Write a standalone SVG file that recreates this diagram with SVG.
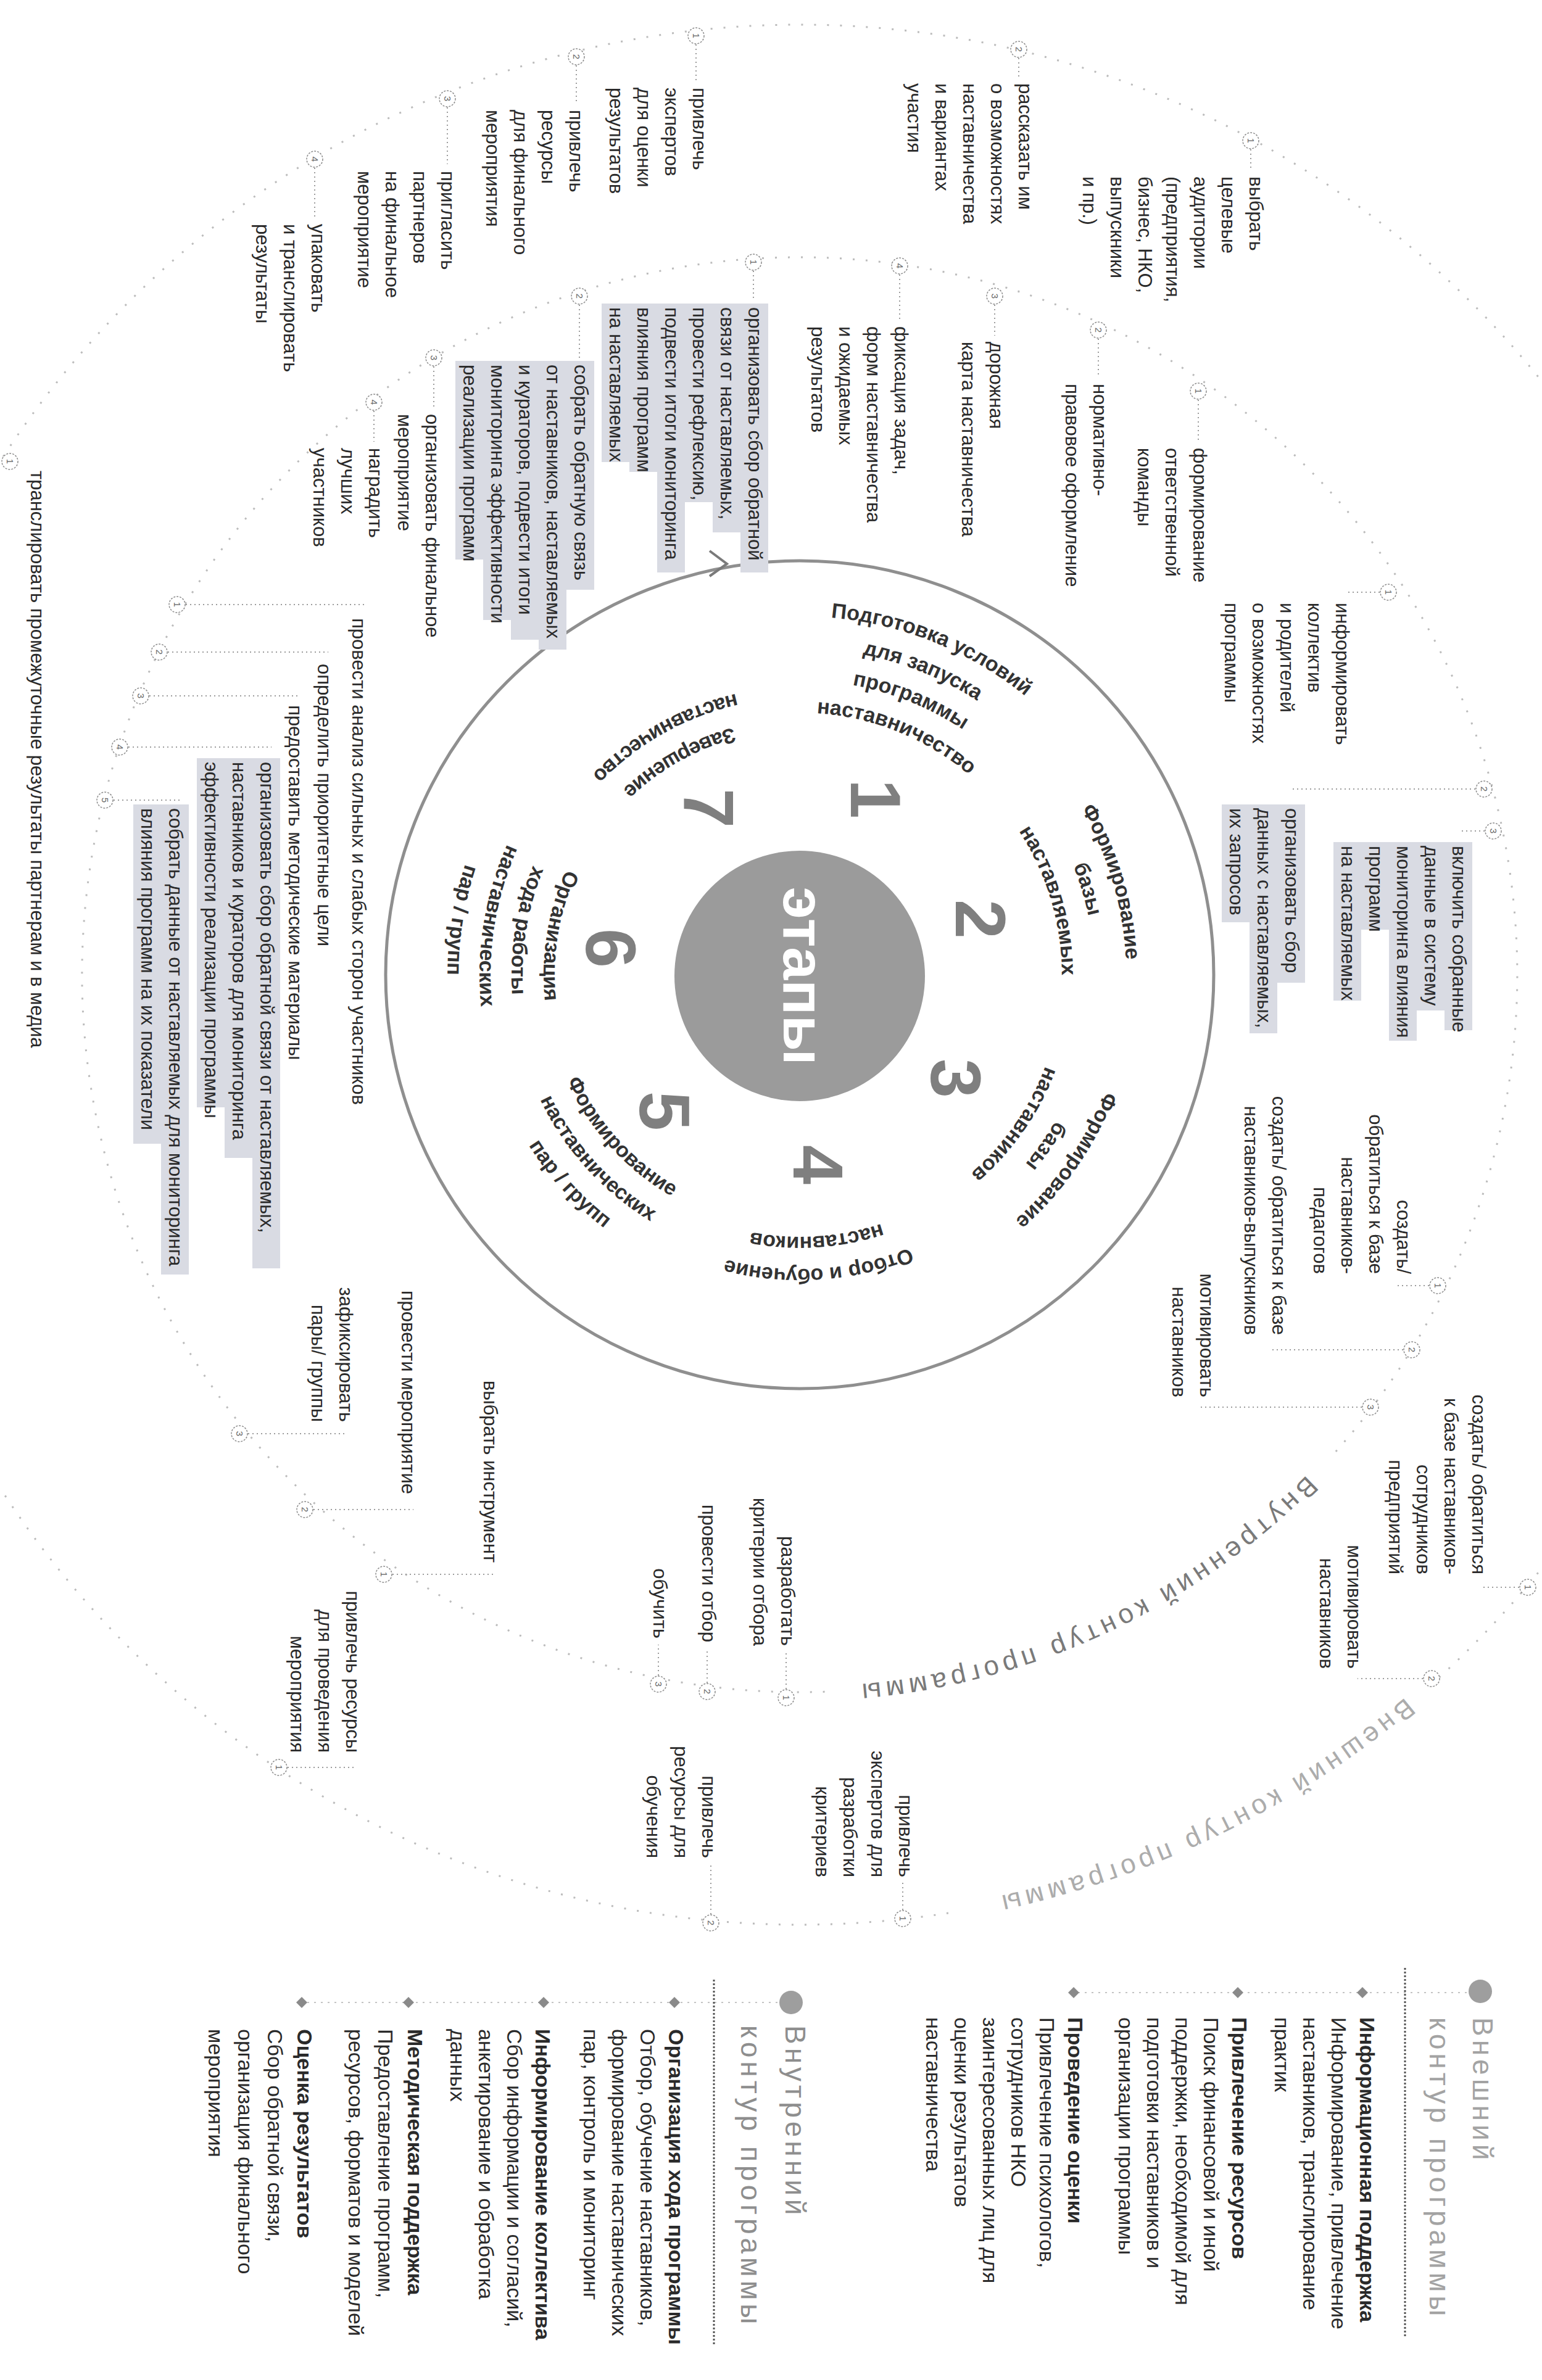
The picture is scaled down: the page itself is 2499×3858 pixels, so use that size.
<svg xmlns="http://www.w3.org/2000/svg" width="2499" height="3858" viewBox="0 0 2499 3858">
<style>
text{font-family:"Liberation Sans",Arial,sans-serif}
.t{font-size:31px;fill:#2a2a2a}
.lg{font-size:34px;fill:#2a2a2a}
.b{font-weight:bold}
.hd{font-size:46px;letter-spacing:6px;fill:#a3a3a3}
.st{font-size:34px;font-weight:bold;fill:#333}
.num{font-size:115px;font-weight:bold;fill:#7f7f7f}
.hl{fill:#d9dbe3}
.mk circle{fill:#fff;stroke:#8c8c8c;stroke-width:1.5;stroke-dasharray:3 2}
.mk text{font-size:15px;fill:#666}
.cn{stroke:#9c9c9c;stroke-width:2;stroke-dasharray:2 5;fill:none}
.ring{fill:none;stroke:#bcbcbc;stroke-width:3;stroke-dasharray:3 18}
.ct{font-size:44px;letter-spacing:7px}
.dv{stroke:#555;stroke-width:3;stroke-dasharray:3 3}
.lb{stroke:#c4c4c4;stroke-width:2;stroke-dasharray:3 8}
</style>
<defs>
<path id="t425" d="M877.5,1506.2 A425,425 0 0 1 1714.5,1506.2"/>
<path id="t477" d="M826.2,1497.2 A477,477 0 0 1 1765.8,1497.2"/>
<path id="t529" d="M775,1488.2 A529,529 0 0 1 1817,1488.2"/>
<path id="t581" d="M723.8,1479.1 A581,581 0 0 1 1868.2,1479.1"/>
<path id="b415" d="M887.3,1652 A415,415 0 0 0 1704.7,1652"/>
<path id="b467" d="M836.1,1661.1 A467,467 0 0 0 1755.9,1661.1"/>
<path id="b519" d="M784.9,1670.1 A519,519 0 0 0 1807.1,1670.1"/>
<path id="b571" d="M733.7,1679.1 A571,571 0 0 0 1858.3,1679.1"/>
<path id="c1154" d="M159.5,1379.7 A1154,1154 0 0 1 2432.5,1379.7"/>
<path id="c1528" d="M-208.8,1314.7 A1528,1528 0 0 1 2800.8,1314.7"/>
</defs>
<rect width="2499" height="3858" fill="#fff"/>

<!-- rings -->
<g id="rings">
<path class="ring" d="M1336.6,2742.3 A1163,1163 0 1 1 2160.2,2358.2"/>
<path class="ring" d="M1536.9,3101 A1540,1540 0 1 1 2306.4,2742.2"/>
<circle cx="1296" cy="1580" r="671" fill="none" stroke="#8f8f8f" stroke-width="5"/>
<polyline points="1150,893 1178,914 1150,934" fill="none" stroke="#7a7a7a" stroke-width="4"/>
<circle cx="1296" cy="1582" r="203" fill="#9b9b9b"/>
<text transform="translate(1296,1582) rotate(90)" x="0" y="26" text-anchor="middle" style="font-size:95px;font-weight:bold;fill:#fff">этапы</text>
<g transform="rotate(-205 1296 1580)"><text class="ct" style="fill:#7a7a7a"><textPath href="#c1154" startOffset="50%" text-anchor="middle">Внутренний контур программы</textPath></text></g>
<g transform="rotate(-206 1296 1580)"><text class="ct" style="fill:#acacac"><textPath href="#c1528" startOffset="50%" text-anchor="middle">Внешний контур программы</textPath></text></g>
</g>

<!-- stage numbers and labels -->
<g id="stages">
<g id="n1" transform="translate(1420,1295) rotate(90)"><text class="num" y="41" text-anchor="middle">1</text></g>
<g id="n2" transform="translate(1590,1490) rotate(90)"><text class="num" y="41" text-anchor="middle">2</text></g>
<g id="n3" transform="translate(1550,1748) rotate(90)"><text class="num" y="41" text-anchor="middle">3</text></g>
<g id="n4" transform="translate(1327,1888) rotate(90)"><text class="num" y="41" text-anchor="middle">4</text></g>
<g id="n5" transform="translate(1078,1801) rotate(90)"><text class="num" y="41" text-anchor="middle">5</text></g>
<g id="n6" transform="translate(991,1537) rotate(90)"><text class="num" y="41" text-anchor="middle">6</text></g>
<g id="n7" transform="translate(1150,1310) rotate(90)"><text class="num" y="41" text-anchor="middle">7</text></g>

<g id="s1" transform="rotate(22 1296 1580)">
<text class="st"><textPath href="#t581" startOffset="50%" text-anchor="middle">Подготовка условий</textPath></text>
<text class="st"><textPath href="#t529" startOffset="50%" text-anchor="middle">для запуска</textPath></text>
<text class="st"><textPath href="#t477" startOffset="50%" text-anchor="middle">программы</textPath></text>
<text class="st"><textPath href="#t425" startOffset="50%" text-anchor="middle">наставничество</textPath></text>
</g>
<g id="s2" transform="rotate(73.43 1296 1580)">
<text class="st"><textPath href="#t529" startOffset="50%" text-anchor="middle">Формирование</textPath></text>
<text class="st"><textPath href="#t477" startOffset="50%" text-anchor="middle">базы</textPath></text>
<text class="st"><textPath href="#t425" startOffset="50%" text-anchor="middle">наставляемых</textPath></text>
</g>
<g id="s3" transform="rotate(124.86 1296 1580)">
<text class="st"><textPath href="#t529" startOffset="50%" text-anchor="middle">Формирование</textPath></text>
<text class="st"><textPath href="#t477" startOffset="50%" text-anchor="middle">базы</textPath></text>
<text class="st"><textPath href="#t425" startOffset="50%" text-anchor="middle">наставников</textPath></text>
</g>
<g id="s4" transform="rotate(176.29 1296 1580)">
<text class="st"><textPath href="#t477" startOffset="50%" text-anchor="middle">Отбор и обучение</textPath></text>
<text class="st"><textPath href="#t425" startOffset="50%" text-anchor="middle">наставников</textPath></text>
</g>
<g id="s5" transform="rotate(47.71 1296 1580)">
<text class="st"><textPath href="#b415" startOffset="50%" text-anchor="middle">Формирование</textPath></text>
<text class="st"><textPath href="#b467" startOffset="50%" text-anchor="middle">наставнических</textPath></text>
<text class="st"><textPath href="#b519" startOffset="50%" text-anchor="middle">пар / групп</textPath></text>
</g>
<g id="s6" transform="rotate(99.14 1296 1580)">
<text class="st"><textPath href="#b415" startOffset="50%" text-anchor="middle">Организация</textPath></text>
<text class="st"><textPath href="#b467" startOffset="50%" text-anchor="middle">хода работы</textPath></text>
<text class="st"><textPath href="#b519" startOffset="50%" text-anchor="middle">наставнических</textPath></text>
<text class="st"><textPath href="#b571" startOffset="50%" text-anchor="middle">пар / групп</textPath></text>
</g>
<g id="s7" transform="rotate(150.57 1296 1580)">
<text class="st"><textPath href="#b415" startOffset="50%" text-anchor="middle">Завершение</textPath></text>
<text class="st"><textPath href="#b467" startOffset="50%" text-anchor="middle">наставничество</textPath></text>
</g>
</g>

<!-- connectors -->
<g id="connectors">
<line class="cn" x1="1128" y1="72" x2="1128" y2="132"/>
<line class="cn" x1="934" y1="106" x2="934" y2="168"/>
<line class="cn" x1="725" y1="174" x2="725" y2="266"/>
<line class="cn" x1="510" y1="272" x2="510" y2="352"/>
<line class="cn" x1="1221" y1="439" x2="1221" y2="488"/>
<line class="cn" x1="939" y1="494" x2="939" y2="580"/>
<line class="cn" x1="703" y1="594" x2="703" y2="660"/>
<line class="cn" x1="606" y1="666" x2="606" y2="716"/>
<line class="cn" x1="2027" y1="242" x2="2027" y2="276"/>
<line class="cn" x1="1651" y1="94" x2="1651" y2="125"/>
<line class="cn" x1="1942" y1="648" x2="1942" y2="716"/>
<line class="cn" x1="1780" y1="549" x2="1780" y2="612"/>
<line class="cn" x1="1612" y1="494" x2="1612" y2="544"/>
<line class="cn" x1="1458" y1="445" x2="1458" y2="519"/>
<line class="cn" x1="2236" y1="960" x2="2180" y2="960"/>
<line class="cn" x1="2391" y1="1279" x2="2095" y2="1279"/>
<line class="cn" x1="2406" y1="1347" x2="2365" y2="1347"/>
<line class="cn" x1="2316" y1="2084" x2="2262" y2="2084"/>
<line class="cn" x1="2274" y1="2188" x2="2060" y2="2188"/>
<line class="cn" x1="2207" y1="2281" x2="1945" y2="2281"/>
<line class="cn" x1="2462" y1="2573" x2="2400" y2="2573"/>
<line class="cn" x1="2306" y1="2721" x2="2200" y2="2721"/>
<line class="cn" x1="1274" y1="2738" x2="1274" y2="2680"/>
<line class="cn" x1="1146" y1="2728" x2="1146" y2="2672"/>
<line class="cn" x1="1067" y1="2716" x2="1067" y2="2666"/>
<line class="cn" x1="1463" y1="3096" x2="1463" y2="3052"/>
<line class="cn" x1="1152" y1="3103" x2="1152" y2="3022"/>
<line class="cn" x1="636" y1="2552" x2="802" y2="2552"/>
<line class="cn" x1="508" y1="2447" x2="670" y2="2447"/>
<line class="cn" x1="402" y1="2324" x2="560" y2="2324"/>
<line class="cn" x1="466" y1="2865" x2="575" y2="2865"/>
<line class="cn" x1="301" y1="980" x2="590" y2="980"/>
<line class="cn" x1="272" y1="1057" x2="532" y2="1057"/>
<line class="cn" x1="242" y1="1128" x2="485" y2="1128"/>
<line class="cn" x1="208" y1="1211" x2="440" y2="1211"/>
<line class="cn" x1="184" y1="1297" x2="292" y2="1297"/>
</g>

<!-- markers -->
<g id="markers">
<g class="mk" transform="translate(1128,58)"><circle r="13"/><text transform="rotate(90)" y="5" text-anchor="middle">1</text></g>
<g class="mk" transform="translate(934,92)"><circle r="13"/><text transform="rotate(90)" y="5" text-anchor="middle">2</text></g>
<g class="mk" transform="translate(725,160)"><circle r="13"/><text transform="rotate(90)" y="5" text-anchor="middle">3</text></g>
<g class="mk" transform="translate(510,258)"><circle r="13"/><text transform="rotate(90)" y="5" text-anchor="middle">4</text></g>
<g class="mk" transform="translate(1221,425)"><circle r="13"/><text transform="rotate(90)" y="5" text-anchor="middle">1</text></g>
<g class="mk" transform="translate(939,480)"><circle r="13"/><text transform="rotate(90)" y="5" text-anchor="middle">2</text></g>
<g class="mk" transform="translate(703,580)"><circle r="13"/><text transform="rotate(90)" y="5" text-anchor="middle">3</text></g>
<g class="mk" transform="translate(606,652)"><circle r="13"/><text transform="rotate(90)" y="5" text-anchor="middle">4</text></g>
<g class="mk" transform="translate(2027,228)"><circle r="13"/><text transform="rotate(90)" y="5" text-anchor="middle">1</text></g>
<g class="mk" transform="translate(1651,80)"><circle r="13"/><text transform="rotate(90)" y="5" text-anchor="middle">2</text></g>
<g class="mk" transform="translate(1942,634)"><circle r="13"/><text transform="rotate(90)" y="5" text-anchor="middle">1</text></g>
<g class="mk" transform="translate(1780,535)"><circle r="13"/><text transform="rotate(90)" y="5" text-anchor="middle">2</text></g>
<g class="mk" transform="translate(1612,480)"><circle r="13"/><text transform="rotate(90)" y="5" text-anchor="middle">3</text></g>
<g class="mk" transform="translate(1458,431)"><circle r="13"/><text transform="rotate(90)" y="5" text-anchor="middle">4</text></g>
<g class="mk" transform="translate(2250,960)"><circle r="13"/><text transform="rotate(90)" y="5" text-anchor="middle">1</text></g>
<g class="mk" transform="translate(2405,1279)"><circle r="13"/><text transform="rotate(90)" y="5" text-anchor="middle">2</text></g>
<g class="mk" transform="translate(2420,1347)"><circle r="13"/><text transform="rotate(90)" y="5" text-anchor="middle">3</text></g>
<g class="mk" transform="translate(2330,2084)"><circle r="13"/><text transform="rotate(90)" y="5" text-anchor="middle">1</text></g>
<g class="mk" transform="translate(2288,2188)"><circle r="13"/><text transform="rotate(90)" y="5" text-anchor="middle">2</text></g>
<g class="mk" transform="translate(2221,2281)"><circle r="13"/><text transform="rotate(90)" y="5" text-anchor="middle">3</text></g>
<g class="mk" transform="translate(2476,2573)"><circle r="13"/><text transform="rotate(90)" y="5" text-anchor="middle">1</text></g>
<g class="mk" transform="translate(2320,2721)"><circle r="13"/><text transform="rotate(90)" y="5" text-anchor="middle">2</text></g>
<g class="mk" transform="translate(1274,2752)"><circle r="13"/><text transform="rotate(90)" y="5" text-anchor="middle">1</text></g>
<g class="mk" transform="translate(1146,2742)"><circle r="13"/><text transform="rotate(90)" y="5" text-anchor="middle">2</text></g>
<g class="mk" transform="translate(1067,2730)"><circle r="13"/><text transform="rotate(90)" y="5" text-anchor="middle">3</text></g>
<g class="mk" transform="translate(1463,3110)"><circle r="13"/><text transform="rotate(90)" y="5" text-anchor="middle">1</text></g>
<g class="mk" transform="translate(1152,3117)"><circle r="13"/><text transform="rotate(90)" y="5" text-anchor="middle">2</text></g>
<g class="mk" transform="translate(622,2552)"><circle r="13"/><text transform="rotate(90)" y="5" text-anchor="middle">1</text></g>
<g class="mk" transform="translate(494,2447)"><circle r="13"/><text transform="rotate(90)" y="5" text-anchor="middle">2</text></g>
<g class="mk" transform="translate(388,2324)"><circle r="13"/><text transform="rotate(90)" y="5" text-anchor="middle">3</text></g>
<g class="mk" transform="translate(452,2865)"><circle r="13"/><text transform="rotate(90)" y="5" text-anchor="middle">1</text></g>
<g class="mk" transform="translate(287,980)"><circle r="13"/><text transform="rotate(90)" y="5" text-anchor="middle">1</text></g>
<g class="mk" transform="translate(258,1057)"><circle r="13"/><text transform="rotate(90)" y="5" text-anchor="middle">2</text></g>
<g class="mk" transform="translate(228,1128)"><circle r="13"/><text transform="rotate(90)" y="5" text-anchor="middle">3</text></g>
<g class="mk" transform="translate(194,1211)"><circle r="13"/><text transform="rotate(90)" y="5" text-anchor="middle">4</text></g>
<g class="mk" transform="translate(170,1297)"><circle r="13"/><text transform="rotate(90)" y="5" text-anchor="middle">5</text></g>
<g class="mk" transform="translate(16,748)"><circle r="13"/><text transform="rotate(90)" y="5" text-anchor="middle">1</text></g>
</g>

<!-- text nodes -->
<g id="b1" transform="translate(1123,142) rotate(90)"><text class="t"><tspan x="0" y="0">привлечь</tspan><tspan x="0" dy="45">экспертов</tspan><tspan x="0" dy="45">для оценки</tspan><tspan x="0" dy="45">результатов</tspan></text></g>
<g id="b2" transform="translate(923,178) rotate(90)"><text class="t"><tspan x="0" y="0">привлечь</tspan><tspan x="0" dy="45">ресурсы</tspan><tspan x="0" dy="45">для финального</tspan><tspan x="0" dy="45">мероприятия</tspan></text></g>
<g id="b3" transform="translate(715,277) rotate(90)"><text class="t"><tspan x="0" y="0">пригласить</tspan><tspan x="0" dy="45">партнеров</tspan><tspan x="0" dy="45">на финальное</tspan><tspan x="0" dy="45">мероприятие</tspan></text></g>
<g id="b4" transform="translate(505,363) rotate(90)"><text class="t"><tspan x="0" y="0">упаковать</tspan><tspan x="0" dy="45">и транслировать</tspan><tspan x="0" dy="45">результаты</tspan></text></g>
<g id="b5" transform="translate(1213,498) rotate(90)">
<rect class="hl" x="-6" y="-32" width="436" height="45"/><rect class="hl" x="-6" y="13" width="371" height="45"/><rect class="hl" x="-6" y="58" width="322" height="45"/><rect class="hl" x="-6" y="103" width="436" height="45"/><rect class="hl" x="-6" y="148" width="273" height="45"/><rect class="hl" x="-6" y="193" width="257" height="45"/>
<text class="t"><tspan x="0" y="0">организовать сбор обратной</tspan><tspan x="0" dy="45">связи от наставляемых,</tspan><tspan x="0" dy="45">провести рефлексию,</tspan><tspan x="0" dy="45">подвести итоги мониторинга</tspan><tspan x="0" dy="45">влияния программ</tspan><tspan x="0" dy="45">на наставляемых</tspan></text></g>
<g id="b6" transform="translate(931,591) rotate(90)">
<rect class="hl" x="-6" y="-32" width="371" height="45"/><rect class="hl" x="-6" y="13" width="468" height="45"/><rect class="hl" x="-6" y="58" width="452" height="45"/><rect class="hl" x="-6" y="103" width="420" height="45"/><rect class="hl" x="-6" y="148" width="322" height="45"/>
<text class="t"><tspan x="0" y="0">собрать обратную связь</tspan><tspan x="0" dy="45">от наставников, наставляемых</tspan><tspan x="0" dy="45">и кураторов, подвести итоги</tspan><tspan x="0" dy="45">мониторинга эффективности</tspan><tspan x="0" dy="45">реализации программ</tspan></text></g>
<g id="b7" transform="translate(690,671) rotate(90)"><text class="t"><tspan x="0" y="0">организовать финальное</tspan><tspan x="0" dy="45">мероприятие</tspan></text></g>
<g id="b8" transform="translate(598,726) rotate(90)"><text class="t"><tspan x="0" y="0">наградить</tspan><tspan x="0" dy="45">лучших</tspan><tspan x="0" dy="45">участников</tspan></text></g>
<g id="b9" transform="translate(2025,286) rotate(90)"><text class="t"><tspan x="0" y="0">выбрать</tspan><tspan x="0" dy="45">целевые</tspan><tspan x="0" dy="45">аудитории</tspan><tspan x="0" dy="45">(предприятия,</tspan><tspan x="0" dy="45">бизнес, НКО,</tspan><tspan x="0" dy="45">выпускники</tspan><tspan x="0" dy="45">и пр.)</tspan></text></g>
<g id="b10" transform="translate(1651,135) rotate(90)"><text class="t"><tspan x="0" y="0">рассказать им</tspan><tspan x="0" dy="45">о возможностях</tspan><tspan x="0" dy="45">наставничества</tspan><tspan x="0" dy="45">и вариантах</tspan><tspan x="0" dy="45">участия</tspan></text></g>
<g id="b11" transform="translate(1934,726) rotate(90)"><text class="t"><tspan x="0" y="0">формирование</tspan><tspan x="0" dy="45">ответственной</tspan><tspan x="0" dy="45">команды</tspan></text></g>
<g id="b12" transform="translate(1772,622) rotate(90)"><text class="t"><tspan x="0" y="0">нормативно-</tspan><tspan x="0" dy="45">правовое оформление</tspan></text></g>
<g id="b13" transform="translate(1604,554) rotate(90)"><text class="t"><tspan x="0" y="0">дорожная</tspan><tspan x="0" dy="45">карта наставничества</tspan></text></g>
<g id="b14" transform="translate(1450,529) rotate(90)"><text class="t"><tspan x="0" y="0">фиксация задач,</tspan><tspan x="0" dy="45">форм наставничества</tspan><tspan x="0" dy="45">и ожидаемых</tspan><tspan x="0" dy="45">результатов</tspan></text></g>
<g id="b15" transform="translate(2165,977) rotate(90)"><text class="t"><tspan x="0" y="0">информировать</tspan><tspan x="0" dy="45">коллектив</tspan><tspan x="0" dy="45">и родителей</tspan><tspan x="0" dy="45">о возможностях</tspan><tspan x="0" dy="45">программы</tspan></text></g>
<g id="b16" transform="translate(2083,1310) rotate(90)">
<rect class="hl" x="-6" y="-32" width="289" height="45"/><rect class="hl" x="-6" y="13" width="371" height="45"/><rect class="hl" x="-6" y="58" width="191" height="45"/>
<text class="t"><tspan x="0" y="0">организовать сбор</tspan><tspan x="0" dy="45">данных с наставляемых,</tspan><tspan x="0" dy="45">их запросов</tspan></text></g>
<g id="b17" transform="translate(2354,1371) rotate(90)">
<rect class="hl" x="-6" y="-32" width="305" height="45"/><rect class="hl" x="-6" y="13" width="273" height="45"/><rect class="hl" x="-6" y="58" width="322" height="45"/><rect class="hl" x="-6" y="103" width="142" height="45"/><rect class="hl" x="-6" y="148" width="257" height="45"/>
<text class="t"><tspan x="0" y="0">включить собранные</tspan><tspan x="0" dy="45">данные в систему</tspan><tspan x="0" dy="45">мониторинга влияния</tspan><tspan x="0" dy="45">программ</tspan><tspan x="0" dy="45">на наставляемых</tspan></text></g>
<g id="b18" transform="translate(2264,2065) rotate(90)"><text class="t" text-anchor="end"><tspan x="0" y="0">создать/</tspan><tspan x="0" dy="45">обратиться к базе</tspan><tspan x="0" dy="45">наставников-</tspan><tspan x="0" dy="45">педагогов</tspan></text></g>
<g id="b19" transform="translate(2062,2164) rotate(90)"><text class="t" text-anchor="end"><tspan x="0" y="0">создать/ обратиться к базе</tspan><tspan x="0" dy="45">наставников-выпускников</tspan></text></g>
<g id="b20" transform="translate(1945,2265) rotate(90)"><text class="t" text-anchor="end"><tspan x="0" y="0">мотивировать</tspan><tspan x="0" dy="45">наставников</tspan></text></g>
<g id="b21" transform="translate(2386,2552) rotate(90)"><text class="t" text-anchor="end"><tspan x="0" y="0">создать/ обратиться</tspan><tspan x="0" dy="45">к базе наставников-</tspan><tspan x="0" dy="45">сотрудников</tspan><tspan x="0" dy="45">предприятий</tspan></text></g>
<g id="b22" transform="translate(2184,2705) rotate(90)"><text class="t" text-anchor="end"><tspan x="0" y="0">мотивировать</tspan><tspan x="0" dy="45">наставников</tspan></text></g>
<g id="b23" transform="translate(1266,2668) rotate(90)"><text class="t" text-anchor="end"><tspan x="0" y="0">разработать</tspan><tspan x="0" dy="45">критерии отбора</tspan></text></g>
<g id="b24" transform="translate(1138,2662) rotate(90)"><text class="t" text-anchor="end">провести отбор</text></g>
<g id="b25" transform="translate(1059,2656) rotate(90)"><text class="t" text-anchor="end">обучить</text></g>
<g id="b26" transform="translate(1457,3043) rotate(90)"><text class="t" text-anchor="end"><tspan x="0" y="0">привлечь</tspan><tspan x="0" dy="45">экспертов для</tspan><tspan x="0" dy="45">разработки</tspan><tspan x="0" dy="45">критериев</tspan></text></g>
<g id="b27" transform="translate(1138,3012) rotate(90)"><text class="t" text-anchor="end"><tspan x="0" y="0">привлечь</tspan><tspan x="0" dy="45">ресурсы для</tspan><tspan x="0" dy="45">обучения</tspan></text></g>
<g id="b28" transform="translate(784,2533) rotate(90)"><text class="t" text-anchor="end">выбрать инструмент</text></g>
<g id="b29" transform="translate(651,2422) rotate(90)"><text class="t" text-anchor="end">провести мероприятие</text></g>
<g id="b30" transform="translate(550,2305) rotate(90)"><text class="t" text-anchor="end"><tspan x="0" y="0">зафиксировать</tspan><tspan x="0" dy="45">пары/ группы</tspan></text></g>
<g id="b31" transform="translate(561,2841) rotate(90)"><text class="t" text-anchor="end"><tspan x="0" y="0">привлечь ресурсы</tspan><tspan x="0" dy="45">для проведения</tspan><tspan x="0" dy="45">мероприятия</tspan></text></g>
<g id="b32" transform="translate(571,1002) rotate(90)"><text class="t">провести анализ сильных и слабых сторон участников</text></g>
<g id="b33" transform="translate(515,1076) rotate(90)"><text class="t">определить приоритетные цели</text></g>
<g id="b34" transform="translate(468,1143) rotate(90)"><text class="t">предоставить методические материалы</text></g>
<g id="b35" transform="translate(422,1235) rotate(90)">
<rect class="hl" x="-6" y="-32" width="827" height="45"/><rect class="hl" x="-6" y="13" width="648" height="45"/><rect class="hl" x="-6" y="58" width="566" height="45"/>
<text class="t"><tspan x="0" y="0">организовать сбор обратной связи от наставляемых,</tspan><tspan x="0" dy="45">наставников и кураторов для мониторинга</tspan><tspan x="0" dy="45">эффективности реализации программы</tspan></text></g>
<g id="b36" transform="translate(274,1310) rotate(90)">
<rect class="hl" x="-6" y="-32" width="762" height="45"/><rect class="hl" x="-6" y="13" width="550" height="45"/>
<text class="t"><tspan x="0" y="0">собрать данные от наставляемых для мониторинга</tspan><tspan x="0" dy="45">влияния программ на их показатели</tspan></text></g>
<g id="b37" transform="translate(50,763) rotate(90)"><text class="t">транслировать промежуточные результаты партнерам и в медиа</text></g>

<!-- legend -->
<g id="legend-outer">
<line class="lb" x1="2399" y1="3230" x2="1740" y2="3230"/>
<circle cx="2399" cy="3228" r="19" fill="#9e9e9e"/>
<g transform="translate(2387,3270) rotate(90)"><text class="hd"><tspan x="0" y="0">Внешний</tspan><tspan x="0" dy="70">контур программы</tspan></text></g>
<line class="dv" x1="2277" y1="3190" x2="2277" y2="3787"/>
<path d="M2208,3221 L2217,3230 L2208,3239 L2199,3230Z" fill="#8a8a8a"/>
<path d="M2006,3221 L2015,3230 L2006,3239 L1997,3230Z" fill="#8a8a8a"/>
<path d="M1740,3221 L1749,3230 L1740,3239 L1731,3230Z" fill="#8a8a8a"/>
<g id="lo1" transform="translate(2204,3270) rotate(90)"><text class="lg"><tspan x="0" y="0" class="b">Информационная поддержка</tspan><tspan x="0" dy="46">Информирование, привлечение</tspan><tspan x="0" dy="46">наставников, транслирование</tspan><tspan x="0" dy="46">практик</tspan></text></g>
<g id="lo2" transform="translate(1997,3270) rotate(90)"><text class="lg"><tspan x="0" y="0" class="b">Привлечение ресурсов</tspan><tspan x="0" dy="46">Поиск финансовой и иной</tspan><tspan x="0" dy="46">поддержки, необходимой для</tspan><tspan x="0" dy="46">подготовки наставников и</tspan><tspan x="0" dy="46">организации программы</tspan></text></g>
<g id="lo3" transform="translate(1731,3270) rotate(90)"><text class="lg"><tspan x="0" y="0" class="b">Проведение оценки</tspan><tspan x="0" dy="46">Привлечение психологов,</tspan><tspan x="0" dy="46">сотрудников НКО</tspan><tspan x="0" dy="46">заинтересованных лиц для</tspan><tspan x="0" dy="46">оценки результатов</tspan><tspan x="0" dy="46">наставничества</tspan></text></g>
</g>
<g id="legend-inner">
<line class="lb" x1="1282" y1="3246" x2="489" y2="3246"/>
<circle cx="1282" cy="3246" r="19" fill="#9e9e9e"/>
<g transform="translate(1273,3283) rotate(90)"><text class="hd" style="fill:#8e8e8e"><tspan x="0" y="0">Внутренний</tspan><tspan x="0" dy="72">контур программы</tspan></text></g>
<line class="dv" x1="1157" y1="3209" x2="1157" y2="3800"/>
<path d="M1093,3237 L1102,3246 L1093,3255 L1084,3246Z" fill="#8a8a8a"/>
<path d="M881,3237 L890,3246 L881,3255 L872,3246Z" fill="#8a8a8a"/>
<path d="M662,3237 L671,3246 L662,3255 L653,3246Z" fill="#8a8a8a"/>
<path d="M489,3237 L498,3246 L489,3255 L480,3246Z" fill="#8a8a8a"/>
<g id="li1" transform="translate(1084,3289) rotate(90)"><text class="lg"><tspan x="0" y="0" class="b">Организация хода программы</tspan><tspan x="0" dy="46">Отбор, обучение наставников,</tspan><tspan x="0" dy="46">формирование наставнических</tspan><tspan x="0" dy="46">пар, контроль и мониторинг</tspan></text></g>
<g id="li2" transform="translate(868,3289) rotate(90)"><text class="lg"><tspan x="0" y="0" class="b">Информирование коллектива</tspan><tspan x="0" dy="46">Сбор информации и согласий,</tspan><tspan x="0" dy="46">анкетирование и обработка</tspan><tspan x="0" dy="46">данных</tspan></text></g>
<g id="li3" transform="translate(661,3289) rotate(90)"><text class="lg"><tspan x="0" y="0" class="b">Методическая поддержка</tspan><tspan x="0" dy="48">Предоставление программ,</tspan><tspan x="0" dy="48">ресурсов, форматов и моделей</tspan></text></g>
<g id="li4" transform="translate(482,3289) rotate(90)"><text class="lg"><tspan x="0" y="0" class="b">Оценка результатов</tspan><tspan x="0" dy="48">Сбор обратной связи,</tspan><tspan x="0" dy="48">организация финального</tspan><tspan x="0" dy="48">мероприятия</tspan></text></g>
</g>
</svg>
